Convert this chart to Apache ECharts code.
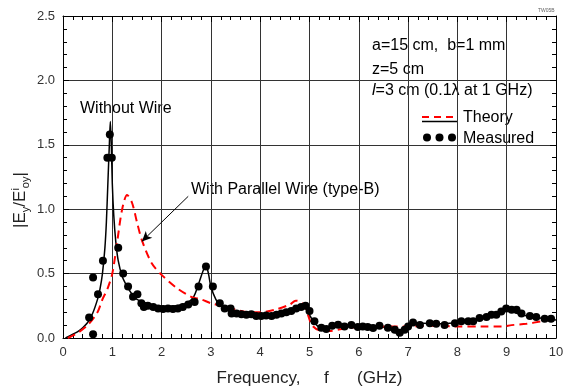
<!DOCTYPE html>
<html>
<head>
<meta charset="utf-8">
<script src="https://cdn.jsdelivr.net/npm/echarts@6/dist/echarts.min.js"></script>
<style>
  html, body { margin: 0; padding: 0; background: #fff; }
  #chart { width: 563px; height: 387px; }
</style>
</head>
<body>
<div id="chart"></div>
<script>
// Theory, without wire (solid black)
const freqNoWire = [0.05, 0.2, 0.3, 0.4, 0.5, 0.6, 0.7, 0.75, 0.8, 0.85, 0.88, 0.91, 0.94, 0.96, 0.98, 1.0, 1.03, 1.07, 1.12, 1.2, 1.3, 1.4, 1.5, 1.7, 1.9, 2.1, 2.3, 2.5, 2.65, 2.75, 2.85, 2.9, 2.95, 3.0, 3.1, 3.2, 3.4, 3.6, 3.8, 4.0, 4.2, 4.4, 4.6, 4.8, 4.9, 4.95, 5.0, 5.1, 5.2, 5.3, 5.5, 5.8, 6.1, 6.4, 6.6, 6.75, 6.85, 6.95, 7.05, 7.3, 7.7, 8.0, 8.3, 8.6, 8.8, 8.95, 9.0, 9.1, 9.3, 9.6, 10.0];
const theoryNoWire = [0, 0.03, 0.05, 0.08, 0.12, 0.19, 0.3, 0.38, 0.5, 0.7, 0.9, 1.2, 1.5, 1.68, 1.5, 1.2, 0.95, 0.75, 0.6, 0.48, 0.4, 0.34, 0.3, 0.27, 0.25, 0.245, 0.25, 0.27, 0.32, 0.42, 0.53, 0.56, 0.5, 0.4, 0.3, 0.25, 0.21, 0.195, 0.185, 0.18, 0.185, 0.2, 0.22, 0.25, 0.26, 0.24, 0.18, 0.12, 0.08, 0.07, 0.09, 0.1, 0.1, 0.09, 0.075, 0.04, 0.03, 0.07, 0.11, 0.115, 0.11, 0.12, 0.13, 0.16, 0.19, 0.225, 0.23, 0.21, 0.18, 0.16, 0.14];

// Theory, with parallel wire (red dashed)
const freqWire = [0.1, 0.3, 0.5, 0.7, 0.8, 0.9, 1.0, 1.1, 1.2, 1.3, 1.4, 1.5, 1.6, 1.8, 2.0, 2.3, 2.6, 2.8, 3.0, 3.2, 3.5, 3.8, 4.0, 4.3, 4.6, 4.72, 4.82, 4.92, 5.05, 5.2, 5.4, 5.75, 6.0, 6.5, 7.0, 7.5, 8.0, 8.5, 8.9, 9.1, 9.4, 9.7, 10.0];
const theoryWire = [0, 0.04, 0.1, 0.2, 0.3, 0.38, 0.5, 0.75, 1.0, 1.11, 1.05, 0.9, 0.76, 0.58, 0.49, 0.39, 0.32, 0.3, 0.27, 0.25, 0.22, 0.2, 0.2, 0.22, 0.26, 0.29, 0.28, 0.23, 0.1, 0.06, 0.055, 0.077, 0.085, 0.09, 0.09, 0.095, 0.09, 0.09, 0.09, 0.1, 0.11, 0.13, 0.15];

// Measured (dots)
const freqMeas = [0.53, 0.61, 0.61, 0.71, 0.81, 0.9, 0.95, 0.99, 1.12, 1.22, 1.32, 1.42, 1.51, 1.59, 1.64, 1.72, 1.83, 1.93, 2.03, 2.13, 2.23, 2.33, 2.43, 2.54, 2.67, 2.75, 2.9, 3.04, 3.18, 3.28, 3.4, 3.42, 3.52, 3.62, 3.72, 3.82, 3.92, 4.02, 4.12, 4.23, 4.33, 4.43, 4.53, 4.63, 4.73, 4.83, 4.92, 5.0, 5.1, 5.24, 5.34, 5.46, 5.58, 5.71, 5.85, 5.98, 6.08, 6.18, 6.29, 6.42, 6.59, 6.73, 6.83, 6.93, 7.0, 7.1, 7.24, 7.44, 7.57, 7.74, 7.95, 8.08, 8.22, 8.32, 8.45, 8.59, 8.69, 8.79, 8.89, 8.99, 9.1, 9.2, 9.3, 9.47, 9.6, 9.77, 9.9];
const measured = [0.16, 0.03, 0.47, 0.34, 0.6, 1.4, 1.58, 1.4, 0.7, 0.5, 0.4, 0.32, 0.34, 0.27, 0.24, 0.25, 0.24, 0.23, 0.225, 0.23, 0.225, 0.23, 0.24, 0.26, 0.28, 0.4, 0.555, 0.4, 0.27, 0.23, 0.23, 0.19, 0.19, 0.185, 0.18, 0.185, 0.17, 0.17, 0.175, 0.17, 0.18, 0.19, 0.2, 0.21, 0.23, 0.24, 0.25, 0.21, 0.13, 0.08, 0.07, 0.095, 0.103, 0.09, 0.1, 0.085, 0.09, 0.085, 0.078, 0.095, 0.08, 0.064, 0.04, 0.064, 0.09, 0.12, 0.1, 0.115, 0.11, 0.1, 0.115, 0.13, 0.13, 0.13, 0.155, 0.163, 0.18, 0.18, 0.206, 0.23, 0.22, 0.22, 0.19, 0.17, 0.163, 0.15, 0.15];

const xTicks = [0, 1, 2, 3, 4, 5, 6, 7, 8, 9, 10];
const yTicks = [0, 0.5, 1.0, 1.5, 2.0, 2.5];

const zip = (xs, ys) => xs.map((x, i) => [x, ys[i]]);

const font = '"Liberation Sans", Arial, sans-serif';
const chart = echarts.init(document.getElementById('chart'));

const axisBase = {
  type: 'value',
  axisLine: { show: true, onZero: false, lineStyle: { color: '#000', width: 1 } },
  axisTick: { show: true, inside: true, length: 6, lineStyle: { color: '#000' } },
  minorTick: { show: true, splitNumber: 5, length: 4, lineStyle: { color: '#000' } },
  splitLine: { show: true, lineStyle: { color: '#333', width: 1 } }
};

const option = {
  animation: false,
  backgroundColor: '#fff',
  textStyle: { fontFamily: font },
  grid: { left: 63, right: 7, top: 16, bottom: 49, outerBoundsMode: 'none', containLabel: false },
  xAxis: [
    Object.assign({}, axisBase, {
      min: xTicks[0], max: xTicks[xTicks.length - 1], interval: 1,
      name: 'Frequency,     f      (GHz)',
      nameLocation: 'middle', nameGap: 32,
      nameTextStyle: { fontSize: 17, color: '#222', fontFamily: font },
      axisLabel: { fontSize: 13, color: '#333', margin: 8 }
    }),
    Object.assign({}, axisBase, {
      position: 'top', min: 0, max: 10, interval: 1,
      axisLabel: { show: false }, splitLine: { show: false }
    })
  ],
  yAxis: [
    Object.assign({}, axisBase, {
      min: yTicks[0], max: yTicks[yTicks.length - 1], interval: 0.5,
      axisLabel: { fontSize: 13, color: '#333', margin: 8, formatter: v => v.toFixed(1) }
    }),
    Object.assign({}, axisBase, {
      position: 'right', min: 0, max: 2.5, interval: 0.5,
      axisLabel: { show: false }, splitLine: { show: false }
    })
  ],
  series: [
    {
      name: 'Theory (with wire)',
      type: 'line',
      data: zip(freqWire, theoryWire),
      smooth: 0.3,
      showSymbol: false,
      lineStyle: { color: '#ff0000', width: 2, type: [8, 5] },
      z: 3,
      markLine: {
        silent: true,
        symbol: ['none', 'arrow'],
        symbolSize: [7, 10],
        label: { show: false },
        lineStyle: { color: '#000', width: 1, type: 'solid' },
        data: [[{ coord: [2.54, 1.10] }, { coord: [1.6, 0.75] }]]
      }
    },
    {
      name: 'Theory (without wire)',
      type: 'line',
      data: zip(freqNoWire, theoryNoWire),
      smooth: 0.3,
      showSymbol: false,
      lineStyle: { color: '#000', width: 1.5 },
      z: 2
    },
    {
      name: 'Measured',
      type: 'scatter',
      data: zip(freqMeas, measured),
      symbol: 'circle',
      symbolSize: 8,
      itemStyle: { color: '#000', opacity: 1 },
      z: 4
    }
  ],
  graphic: [
    { type: 'text', left: 538, top: 8, style: { text: 'TW05B', font: '5px ' + font, fill: '#666' } },
    {
      type: 'text', x: 20, y: 200, rotation: Math.PI / 2,
      style: {
        text: '{a||E}{sub|y}{a|/E}{sup|i}{sub|oy}{a||}',
        align: 'center', verticalAlign: 'middle',
        rich: {
          a: { font: '17px ' + font, fill: '#222', lineHeight: 24 },
          sub: { font: '11px ' + font, fill: '#222', lineHeight: 24, padding: [11, 0, 0, 0] },
          sup: { font: '11px ' + font, fill: '#222', lineHeight: 24, padding: [0, 0, 9, 0] }
        }
      }
    },
    { type: 'text', x: 80, y: 109, style: { text: 'Without Wire', font: '16px ' + font, fill: '#000', verticalAlign: 'middle' } },
    { type: 'text', x: 191, y: 190, style: { text: 'With Parallel Wire (type-B)', font: '16px ' + font, fill: '#000', verticalAlign: 'middle' } },
    { type: 'text', x: 372, y: 46, style: { text: 'a=15 cm,  b=1 mm', font: '16px ' + font, fill: '#000', verticalAlign: 'middle' } },
    { type: 'text', x: 372, y: 70, style: { text: 'z=5 cm', font: '16px ' + font, fill: '#000', verticalAlign: 'middle' } },
    {
      type: 'text', x: 372, y: 91,
      style: {
        text: '{i|l}{n|=3 cm (0.1λ at 1 GHz)}',
        verticalAlign: 'middle',
        rich: {
          i: { font: 'italic 16px ' + font, fill: '#000' },
          n: { font: '16px ' + font, fill: '#000' }
        }
      }
    },
    { type: 'line', shape: { x1: 422, y1: 117, x2: 457, y2: 117 }, style: { stroke: '#ff0000', lineWidth: 2, lineDash: [7, 5] } },
    { type: 'line', shape: { x1: 422, y1: 121.5, x2: 457, y2: 121.5 }, style: { stroke: '#000', lineWidth: 1.5 } },
    { type: 'text', x: 463, y: 118, style: { text: 'Theory', font: '16px ' + font, fill: '#000', verticalAlign: 'middle' } },
    { type: 'circle', shape: { cx: 427, cy: 137.5, r: 4 }, style: { fill: '#000' } },
    { type: 'circle', shape: { cx: 439.5, cy: 137.5, r: 4 }, style: { fill: '#000' } },
    { type: 'circle', shape: { cx: 452, cy: 137.5, r: 4 }, style: { fill: '#000' } },
    { type: 'text', x: 463, y: 139, style: { text: 'Measured', font: '16px ' + font, fill: '#000', verticalAlign: 'middle' } }
  ]
};

chart.setOption(option);
</script>
</body>
</html>
